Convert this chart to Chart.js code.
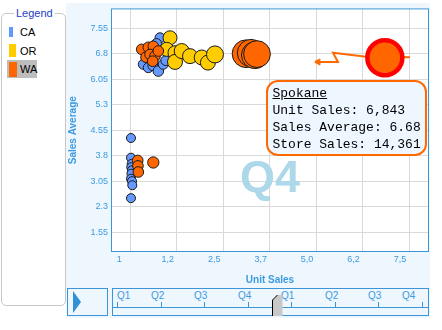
<!DOCTYPE html>
<html>
<head>
<meta charset="utf-8">
<script src="https://cdn.jsdelivr.net/npm/chart.js@4.4.0/dist/chart.umd.min.js"></script>
<style>
  body { margin: 0; background: #fff; font-family: "Liberation Sans", Arial, sans-serif; }
  #stage { position: relative; width: 442px; height: 330px; overflow: hidden; }
  #panel { position: absolute; left: 66px; top: 3px; width: 364px; height: 315px; background: #eef6fe; }
  #chart { position: absolute; left: 66px; top: 0; }
  #legend { position: absolute; left: 1px; top: 13px; width: 63px; height: 291px; border: 1px solid #c8c8c8; border-radius: 5px; }
  #legend .title { position: absolute; left: 12px; top: -8px; padding: 0 2px; background: #fff; color: #2440c8; font-size: 11px; line-height: 14px; }
  .item { position: absolute; left: 5px; height: 18px; font-size: 11px; line-height: 18px; color: #000; }
  .item .sw { position: absolute; top: 4px; left: 2px; }
  .item .txt { position: absolute; left: 13px; top: 0; }
  .item.sel { background: #bdbdbd; width: 30px; }
  #tip { position: absolute; left: 266px; top: 80px; width: 152.5px; height: 69px; padding: 3px 0 0 4.5px;
         border: 2.5px solid #ff6a00; border-radius: 12px; background: #eef6ff;
         font: 13px "Liberation Mono", monospace; line-height: 17px; color: #000; white-space: pre; }
  #tip .name { text-decoration: underline; }
  #play { position: absolute; left: 67px; top: 288px; width: 39px; height: 26px; border: 1px solid #3a96d8; }
  #play .tri { position: absolute; left: 5px; top: 2px; width: 0; height: 0;
               border-left: 8px solid #3090d8; border-top: 11px solid transparent; border-bottom: 11px solid transparent; }
  #timeline { position: absolute; left: 112px; top: 288px; width: 315px; height: 26px; border: 1px solid #3a96d8; }
  #timeline .rail { position: absolute; left: 0; right: 0; top: 18px; height: 1px; background: #3a96d8; }
  #timeline .tick { position: absolute; top: 13px; width: 1px; height: 5px; background: #3a96d8; }
  #timeline .lbl { position: absolute; top: 1px; font-size: 10px; line-height: 12px; color: #3d9be0; }
  #timeline svg { position: absolute; left: 0; top: 0; overflow: visible; }
</style>
</head>
<body>
<div id="stage">
  <div id="legend"><div class="title">Legend</div></div>
  <div id="panel"></div>
  <canvas id="chart" width="364" height="286"></canvas>
  <div id="tip"></div>
  <div id="play"><div class="tri"></div></div>
  <div id="timeline"><div class="rail"></div></div>
</div>
<script>
// States shown in the legend
const seriesNames = ['CA', 'OR', 'WA'];
const seriesColors = ['#6699ff', '#ffcc00', '#ff6600'];

// CA stores: unit sales, sales average, store sales
const caUnitSales = [794, 700, 344, 479, 600, 748, 882, 928, 950, 13, 13, 32, 20, 40, 25, 13, 40, 48, 13];
const caSalesAvg = [7.27, 7.10, 6.49, 6.39, 6.45, 6.29, 6.49, 6.95, 6.60, 4.32, 3.74, 3.56, 3.46, 3.37, 3.27, 3.12, 3.05, 2.93, 2.55];
const caStoreSales = [1170, 1170, 1170, 1170, 1170, 1300, 1170, 1170, 1170, 950, 950, 950, 950, 950, 950, 950, 950, 950, 950];

// OR stores
const orUnitSales = [1063, 974, 1197, 1197, 1377, 1601, 1916, 2083, 2273];
const orSalesAvg = [7.27, 6.93, 6.83, 6.56, 6.88, 6.73, 6.69, 6.54, 6.78];
const orStoreSales = [2300, 2300, 2300, 2640, 2640, 2640, 2640, 2640, 3390];

// WA stores
const waUnitSales = [301, 417, 479, 613, 525, 659, 597, 748, 194, 200, 210, 613, 3108, 3242, 3349, 3403];
const waSalesAvg = [6.93, 6.70, 6.99, 7.02, 6.78, 6.73, 6.58, 6.88, 3.66, 3.50, 3.32, 3.60, 6.80, 6.82, 6.76, 6.79];
const waStoreSales = [1320, 1320, 1320, 1320, 1320, 1320, 1320, 1320, 1320, 1320, 1320, 1500, 9000, 8800, 8600, 8400];

// Selected store and its path over the previous quarters
const selectedName = 'Spokane';
const selectedUnitSales = 6843;
const selectedSalesAvg = 6.68;
const selectedStoreSales = 14361;
const trailUnitSales = [7520, 6285, 5448, 5582, 4964];
const trailSalesAvg = [6.70, 6.72, 6.83, 6.56, 6.56];

// Axis ticks
const xTickValues = [-156, 0, 1250, 2500, 3750, 5000, 6250, 7500];
const xTickLabels = ['1', '', '1,2', '2,5', '3,7', '5,0', '6,2', '7,5'];
const yTickValues = [1.55, 2.3, 3.05, 3.8, 4.55, 5.3, 6.05, 6.8, 7.55];
const yTickLabels = ['1.55', '2.3', '3.05', '3.8', '4.55', '5.3', '6.05', '6.8', '7.55'];

const quarterLabels = ['Q1', 'Q2', 'Q3', 'Q4', 'Q1', 'Q2', 'Q3', 'Q4'];
const currentQuarter = 'Q4';

const blue = '#3d9be0';
const radiusOf = s => Math.sqrt(s) * 0.146;
const toPoints = (u, a, s) => u.map((v, i) => ({ x: v, y: a[i], r: radiusOf(s[i]) }));
const fmt = n => n.toLocaleString('en-US');

// legend
const legend = document.getElementById('legend');
const swatchSizes = [[4, 10], [7, 13], [8, 15]];
seriesNames.forEach((name, i) => {
  const item = document.createElement('div');
  item.className = 'item' + (name === 'WA' ? ' sel' : '');
  item.style.top = (9 + i * 18.5) + 'px';
  const [w, h] = swatchSizes[i];
  item.innerHTML = `<span class="sw" style="width:${w}px;height:${h}px;top:${(18 - h) / 2}px;background:${seriesColors[i]}"></span><span class="txt">${name}</span>`;
  legend.appendChild(item);
});

// tooltip for the selected store
document.getElementById('tip').innerHTML =
  `<span class="name">${selectedName}</span>\n` +
  `Unit Sales: ${fmt(selectedUnitSales)}\n` +
  `Sales Average: ${selectedSalesAvg}\n` +
  `Store Sales: ${fmt(selectedStoreSales)}`;

// quarter timeline: ticks evenly spaced, labels centred a little left of each tick
const timeline = document.getElementById('timeline');
quarterLabels.forEach((q, i) => {
  const x = 4 + i * 43.57;
  const t = document.createElement('div');
  t.className = 'tick';
  t.style.left = Math.round(x) + 'px';
  timeline.appendChild(t);
  const l = document.createElement('div');
  l.className = 'lbl';
  l.textContent = q;
  timeline.appendChild(l);
  const w = l.offsetWidth;
  const left = Math.min(Math.max(x - 3.5 - w / 2, 4), 302 - w);
  l.style.left = Math.round(left) + 'px';
});
timeline.insertAdjacentHTML('beforeend',
  '<svg width="315" height="26"><polygon points="159.5,11 164.5,6 169.5,6 169.5,27 159.5,27" fill="#c8c8c8"/>' +
  '<polyline points="159.5,27 159.5,11 164.5,6" fill="none" stroke="#000" stroke-width="1"/></svg>');

// plot background, frame, watermark and arrow head
const plotDecor = {
  id: 'plotDecor',
  beforeDraw(chart) {
    const { ctx, chartArea: a } = chart;
    ctx.save();
    ctx.fillStyle = '#fff';
    ctx.fillRect(a.left, a.top, a.right - a.left, a.bottom - a.top);
    ctx.restore();
  },
  beforeDatasetsDraw(chart) {
    const { ctx, chartArea: a } = chart;
    ctx.save();
    ctx.fillStyle = '#acd8ea';
    ctx.font = 'bold 45px "Liberation Sans", Arial, sans-serif';
    ctx.textBaseline = 'alphabetic';
    ctx.fillText(currentQuarter, a.left + 129, a.top + 184);
    ctx.restore();
  },
  afterDatasetsDraw(chart) {
    const { ctx } = chart;
    const meta = chart.getDatasetMeta(1);
    const pts = meta.data;
    const tip = pts[pts.length - 1], prev = pts[pts.length - 2];
    const ang = Math.atan2(tip.y - prev.y, tip.x - prev.x);
    ctx.save();
    ctx.strokeStyle = '#ff6a00';
    ctx.lineWidth = 2;
    ctx.beginPath();
    [-0.45, 0.45].forEach(d => {
      ctx.moveTo(tip.x, tip.y);
      ctx.lineTo(tip.x - 6 * Math.cos(ang + d), tip.y - 6 * Math.sin(ang + d));
    });
    ctx.stroke();
    ctx.restore();
  },
  afterDraw(chart) {
    const { ctx, chartArea: a } = chart;
    ctx.save();
    ctx.strokeStyle = '#3a96d8';
    ctx.lineWidth = 1;
    ctx.strokeRect(a.left + 0.5, a.top + 0.5, a.right - a.left - 1, a.bottom - a.top - 1);
    ctx.restore();
  }
};

const datasets = [
  {
    label: selectedName,
    data: [{ x: selectedUnitSales, y: selectedSalesAvg, r: radiusOf(selectedStoreSales) }],
    backgroundColor: seriesColors[2],
    borderColor: '#ff0000',
    borderWidth: 4.5,
    order: 0
  },
  {
    type: 'line',
    label: 'trail',
    data: trailUnitSales.map((v, i) => ({ x: v, y: trailSalesAvg[i] })),
    borderColor: '#ff6a00',
    borderWidth: 2,
    pointRadius: 0,
    fill: false,
    tension: 0,
    order: 1
  },
  { label: 'WA', data: toPoints(waUnitSales, waSalesAvg, waStoreSales), backgroundColor: seriesColors[2], borderColor: '#1a1a1a', borderWidth: 1, order: 2 },
  { label: 'OR', data: toPoints(orUnitSales, orSalesAvg, orStoreSales), backgroundColor: seriesColors[1], borderColor: '#1a1a1a', borderWidth: 1, order: 3 },
  { label: 'CA', data: toPoints(caUnitSales, caSalesAvg, caStoreSales), backgroundColor: seriesColors[0], borderColor: '#1a1a1a', borderWidth: 1, order: 4 }
];

new Chart(document.getElementById('chart'), {
  type: 'bubble',
  data: { datasets },
  plugins: [plotDecor],
  options: {
    responsive: false,
    animation: false,
    events: [],
    layout: { autoPadding: false, padding: { top: 7, right: 1, left: 0, bottom: 0 } },
    plugins: { legend: { display: false }, tooltip: { enabled: false } },
    scales: {
      x: {
        type: 'linear',
        min: -525,
        max: 8031,
        afterBuildTicks: s => { s.ticks = xTickValues.map(v => ({ value: v })); },
        afterFit: s => { s.height = 34; },
        border: { display: false },
        grid: { color: c => (c.tick && c.tick.value < 0 ? 'rgba(0,0,0,0)' : '#d9d9d9'), drawTicks: false },
        ticks: {
          autoSkip: false, maxRotation: 0, align: 'end', labelOffset: -3, padding: 2,
          color: blue, font: { family: '"Liberation Sans", Arial, sans-serif', size: 9 },
          callback: (v, i) => xTickLabels[i]
        },
        title: { display: true, text: 'Unit Sales', color: blue, padding: { top: 0, bottom: 0 },
                 font: { family: '"Liberation Sans", Arial, sans-serif', size: 10, weight: 'bold' } }
      },
      y: {
        min: 0.965,
        max: 8.135,
        afterBuildTicks: s => { s.ticks = yTickValues.map(v => ({ value: v })); },
        afterFit: s => { s.width = 45; },
        border: { display: false },
        grid: { color: '#d9d9d9', drawTicks: false },
        ticks: {
          padding: 3, color: blue, font: { family: '"Liberation Sans", Arial, sans-serif', size: 9 },
          callback: (v, i) => yTickLabels[i]
        },
        title: { display: true, text: 'Sales Average', color: blue, padding: { top: 1, bottom: 0 },
                 font: { family: '"Liberation Sans", Arial, sans-serif', size: 10, weight: 'bold' } }
      }
    }
  }
});
</script>
</body>
</html>
